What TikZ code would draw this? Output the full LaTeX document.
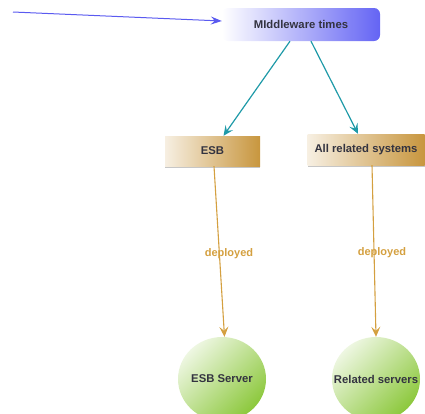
\documentclass[tikz,border=0pt]{standalone}
\usepackage{fontspec}
\setmainfont{Liberation Sans}
\usetikzlibrary{arrows.meta,shadows,shapes.geometric}
\definecolor{mwblue}{HTML}{6464F4}
\definecolor{arrblue}{HTML}{5A5AF0}
\definecolor{teal2}{HTML}{1F9AA8}
\definecolor{goldbox}{HTML}{C8963E}
\definecolor{goldline}{HTML}{D4A040}
\definecolor{greenell}{HTML}{8CC83C}
\definecolor{txt}{HTML}{333340}
\tikzset{
  mwbox/.style={rectangle, rounded corners=6pt, minimum width=158pt, minimum height=33pt, inner sep=0pt,
    left color=white, right color=mwblue, draw=none, text=txt, font=\bfseries\fontsize{11.3}{13}\selectfont},
  goldbox/.style={rectangle, inner sep=0pt, left color=white!85!goldbox, right color=goldbox, draw=none,
    text=txt, font=\bfseries\fontsize{11.3}{13}\selectfont,
    drop shadow={shadow xshift=0pt, shadow yshift=-1.5pt, opacity=0.45, fill=gray}},
  servell/.style={ellipse, minimum width=88pt, minimum height=84pt, inner sep=0pt, draw=none,
    top color=white!85!greenell, bottom color=greenell, shading angle=45},
  elltext/.style={text=txt, font=\bfseries\fontsize{11.3}{13}\selectfont, inner sep=0pt},
  deplabel/.style={text=goldline, font=\bfseries\fontsize{11}{12}\selectfont, inner sep=0pt},
  bluearr/.style={draw=arrblue, line width=1pt, -{Stealth[length=11pt,width=8pt,inset=4pt]}},
  tealarr/.style={draw=teal2, line width=1.2pt, -{Stealth[length=10pt,width=9pt,inset=4pt]}},
  goldarr/.style={draw=goldline, line width=1.1pt, -{Stealth[length=10pt,width=9pt,inset=4pt]}}
}
\begin{document}
\begin{tikzpicture}[x=1pt,y=-1pt]
\useasboundingbox (0,0) rectangle (425,413);
\node[mwbox] (mw) at (301,24.5) {MIddleware times};
\node[goldbox, minimum width=95pt, minimum height=30pt] (esb) at (212.5,151) {ESB};
\node[goldbox, minimum width=117pt, minimum height=31pt] (all) at (366,149.5) {All related systems};
\node[servell, label={[elltext]center:ESB Server}] (esbs) at (222,379) {};
\node[servell, label={[elltext]center:Related servers}] (rel) at (376,379) {};
\coordinate (start) at (13,12);
\draw[bluearr] (start) -- ([yshift=3.5pt]mw.west);
\draw[tealarr] ([xshift=-11pt]mw.south) -- ([xshift=11pt]esb.north);
\draw[tealarr] ([xshift=10pt]mw.south) -- ([xshift=-8pt]all.north);
\draw[goldarr] ([xshift=1.5pt]esb.south) -- ([xshift=2.5pt]esbs.north);
\draw[goldarr] ([xshift=6pt]all.south) -- (rel.north);
\node[deplabel] (d1) at (229,254) {deployed};
\node[deplabel] (d2) at (382,253) {deployed};
\end{tikzpicture}
\end{document}
